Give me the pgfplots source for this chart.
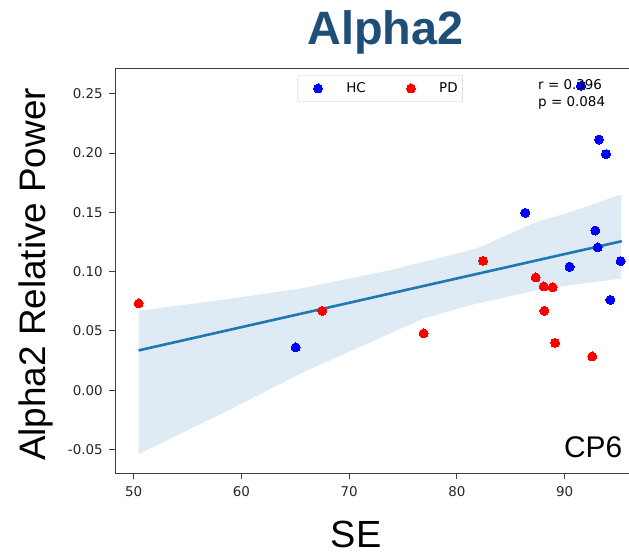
\documentclass[border=0pt]{standalone}
\usepackage{fontspec}
\setmainfont{Liberation Sans}
\newfontfamily\dejavu{DejaVu Sans}
\usepackage{pgfplots}
\pgfplotsset{compat=1.18}
\definecolor{regblue}{RGB}{31,119,180}
\definecolor{titleblue}{RGB}{31,78,121}
\definecolor{hcblue}{RGB}{0,0,255}
\definecolor{pdred}{RGB}{255,0,0}
\begin{document}
\begin{tikzpicture}[x=1bp,y=1bp]
\begin{axis}[
  at={(107,69)}, anchor=south west,
  scale only axis, width=531bp, height=405bp,
  xmin=48.30, xmax=97.58, ymin=-0.0700, ymax=0.2715,
  xtick={50,60,70,80,90},
  ytick={-0.05,0,0.05,0.1,0.15,0.2,0.25},
  /pgf/number format/assume math mode=true,
  ticklabel style={font=\dejavu\fontsize{13.5}{13.5}\selectfont, text=black!85},
  xticklabel style={yshift=-4bp},
  yticklabel style={xshift=-3bp, /pgf/number format/.cd, fixed, fixed zerofill, precision=2},
  tick align=outside, tick pos=left,
  major tick length=6bp,
  tick style={black!75, line width=0.8bp},
  axis line style={black!75, line width=1bp},
  legend columns=2,
  legend image code/.code={\draw[#1] plot coordinates {(0bp,0bp)}; \path (-15bp,0bp) (28bp,0bp);},
  legend style={at={(0.499,0.983)}, anchor=north, draw=black!20, rounded corners=2bp,
    font=\dejavu\fontsize{13.5}{13.5}\selectfont, inner xsep=5bp, inner ysep=7.5bp,
    nodes={inner sep=0pt},
    /tikz/every even column/.append style={column sep=30bp}},
  legend cell align=left,
  clip=false,
]
\addplot[only marks, mark=*, mark size=4.5bp, mark options={draw=hcblue, fill=hcblue, line width=0}] coordinates {
  (65.03,0.0360) (90.46,0.1040) (93.06,0.1203) (94.24,0.0761) (95.20,0.1088)
  (91.52,0.2566) (93.19,0.2113) (93.84,0.1990) (86.35,0.1495) (92.85,0.1346)
};
\addlegendentry{HC}
\addplot[only marks, mark=*, mark size=4.5bp, mark options={draw=pdred, fill=pdred, line width=0}] coordinates {
  (50.46,0.0731) (67.51,0.0669) (76.91,0.0478) (82.43,0.1090) (87.31,0.0950)
  (88.05,0.0874) (88.89,0.0868) (88.12,0.0669) (89.11,0.0399) (92.57,0.0284)
};
\addlegendentry{PD}
\addplot[draw=none, fill=regblue, fill opacity=0.15, forget plot] coordinates {
  (50.46,0.0669) (58.50,0.0765) (65.50,0.0857) (73.80,0.1012) (81.25,0.1180)
  (82.20,0.1208) (87.40,0.1419) (90.50,0.1500) (95.25,0.1650)
  (95.25,0.0941) (90.50,0.0885) (87.40,0.0843) (81.25,0.0717) (76.90,0.0604)
  (73.80,0.0478) (65.94,0.0160) (58.50,-0.0183) (50.46,-0.0540)
} -- cycle;
\addplot[regblue, line width=2.6bp, forget plot] coordinates {(50.46,0.0335) (95.30,0.1256)};
\end{axis}
\node[anchor=north west, align=left, font=\dejavu\fontsize{13.5}{17}\selectfont, inner sep=0pt] at (538,476) {r = 0.396\\p = 0.084};
\node[anchor=base east, font=\fontsize{30}{30}\selectfont, inner sep=0pt] at (622.5,97) {CP6};
\node[anchor=base, inner sep=0pt, text=titleblue, font=\fontsize{47}{47}\selectfont\bfseries] at (385.5,510) {Alpha2};
\node[anchor=base, rotate=90, inner sep=0pt, font=\fontsize{37}{37}\selectfont] at (45,280.5) {Alpha2 Relative Power};
\node[anchor=base, inner sep=0pt, font=\fontsize{38}{38}\selectfont] at (356,7) {SE};
\pgfresetboundingbox
\useasboundingbox (0,0) rectangle (629,555);
\end{tikzpicture}
\end{document}
